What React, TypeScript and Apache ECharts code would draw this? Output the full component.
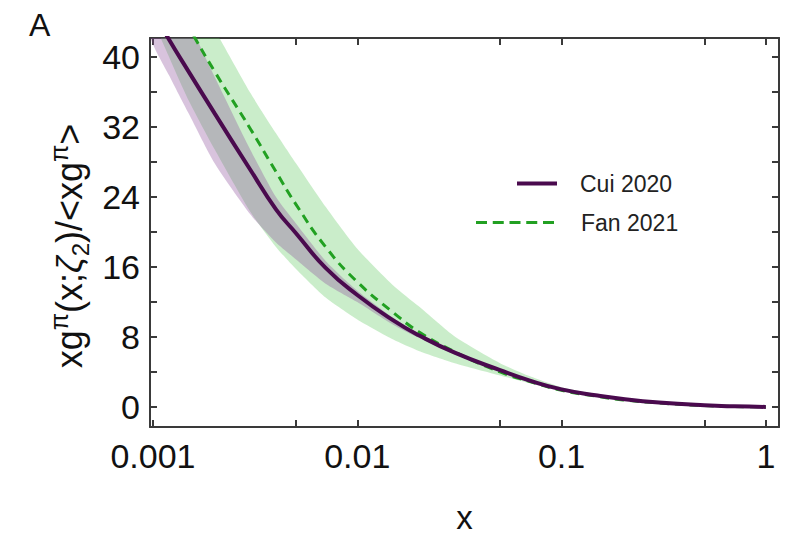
import React, { useEffect, useRef } from "react";
import * as echarts from "echarts";

// Sampling grid in x (log-spaced) shared by every curve and band
const xGrid = [
  0.00097, 0.0012, 0.0015, 0.002, 0.003, 0.004, 0.005, 0.007, 0.01, 0.015,
  0.02, 0.03, 0.05, 0.07, 0.1, 0.15, 0.2, 0.3, 0.5, 0.7, 1.0,
];

// Cui 2020: central curve and uncertainty band
const cuiCentral = [
  45.8, 42.0, 38.3, 33.6, 27.1, 22.6, 19.9, 15.9, 12.8, 9.9,
  8.2, 6.2, 4.2, 3.0, 2.0, 1.3, 0.9, 0.5, 0.18, 0.06, 0,
];
const cuiLower = [
  42.4, 37.9, 33.5, 27.9, 22.0, 18.8, 16.9, 14.1, 12.0, 9.4,
  7.9, 6.0, 4.1, 2.95, 1.95, 1.27, 0.88, 0.48, 0.17, 0.05, 0,
];
const cuiUpper = [
  53.5, 48.9, 44.0, 37.8, 29.4, 24.0, 21.0, 16.7, 13.3, 10.2,
  8.4, 6.3, 4.25, 3.05, 2.03, 1.32, 0.92, 0.51, 0.19, 0.07, 0,
];

// Fan 2021: central curve and uncertainty band
const fanCentral = [
  51.5, 47.4, 43.4, 38.4, 31.8, 26.9, 23.2, 18.3, 14.3, 10.8,
  8.6, 6.3, 4.0, 2.9, 1.9, 1.2, 0.8, 0.45, 0.15, 0.05, 0,
];
const fanLower = [
  45.5, 40.0, 35.0, 29.5, 22.3, 18.3, 15.8, 12.5, 10.0, 7.7,
  6.4, 5.0, 3.6, 2.7, 1.8, 1.15, 0.78, 0.42, 0.13, 0.04, 0,
];
const fanUpper = [
  55.7, 52.0, 48.2, 43.2, 35.9, 31.3, 27.9, 22.9, 18.1, 13.9,
  11.5, 8.05, 5.0, 3.5, 2.25, 1.42, 0.96, 0.53, 0.18, 0.06, 0,
];

// Axis ticks and labels
const xTicks = [0.001, 0.005, 0.01, 0.05, 0.1, 0.5, 1];
const xLabels = [0.001, 0.01, 0.1, 1];
const yTicks = [0, 4, 8, 12, 16, 20, 24, 28, 32, 36, 40];
const yLabels = [0, 8, 16, 24, 32, 40];

const X_MIN = 0.000967;
const X_MAX = 1.16;
const Y_MIN = -2.3;
const Y_MAX = 42.2;

const FONT = "Liberation Sans, Arial, sans-serif";
const FRAME = "#3a3a3a";
const CUI_COLOR = "#4a0a4e";
const FAN_COLOR = "#22a022";

const pairs = (ys: number[]) => xGrid.map((x, i) => [x, ys[i]]);

// Filled uncertainty band between a lower and an upper curve
function bandSeries(name: string, lo: number[], hi: number[], color: string, z: number) {
  return {
    type: "custom",
    name,
    xAxisIndex: 0,
    yAxisIndex: 0,
    silent: true,
    clip: true,
    z,
    data: xGrid.map((x, i) => [x, lo[i], hi[i]]),
    encode: { x: 0, y: [1, 2] },
    renderItem: (params: any, api: any) => {
      if (params.dataIndex !== 0) return null;
      const top = xGrid.map((x, i) => api.coord([x, hi[i]]));
      const bottom = xGrid.map((x, i) => api.coord([x, lo[i]])).reverse();
      const cs = params.coordSys;
      return {
        type: "polygon",
        shape: { points: top.concat(bottom), smooth: 0.2 },
        style: { fill: color, stroke: "none" },
        clipPath: { type: "rect", shape: { x: cs.x, y: cs.y, width: cs.width, height: cs.height } },
      };
    },
  };
}

export default function App() {
  const ref = useRef<HTMLDivElement>(null);

  useEffect(() => {
    if (!ref.current) return;
    const chart = echarts.init(ref.current, null, { renderer: "svg" });

    const tickStyle = { color: FRAME, width: 2 };
    const lineAxis = { show: true, onZero: false, lineStyle: { color: FRAME, width: 2 } };

    const option: any = {
      animation: false,
      backgroundColor: "#ffffff",
      title: {
        text: "A",
        left: 24,
        top: 4,
        textStyle: { fontFamily: FONT, fontSize: 32, fontWeight: "normal", color: "#111" },
      },
      grid: {
        left: 150,
        right: 16,
        top: 38,
        bottom: 107,
        containLabel: false,
        outerBoundsMode: "none",
      },
      xAxis: [
        {
          type: "log",
          logBase: 10,
          min: X_MIN,
          max: X_MAX,
          position: "bottom",
          axisLine: lineAxis,
          axisTick: { show: true, inside: true, length: 7, lineStyle: tickStyle, customValues: xTicks },
          minorTick: { show: false },
          splitLine: { show: false },
          axisLabel: {
            customValues: xLabels,
            formatter: (v: number) => String(v),
            fontFamily: FONT,
            fontSize: 34,
            color: "#111",
            margin: 12,
          },
          name: "x",
          nameLocation: "middle",
          nameGap: 73,
          nameTextStyle: { fontFamily: FONT, fontSize: 33, color: "#111", lineHeight: 34 },
        },
        {
          type: "log",
          logBase: 10,
          min: X_MIN,
          max: X_MAX,
          position: "top",
          axisLine: lineAxis,
          axisTick: { show: true, inside: true, length: 7, lineStyle: tickStyle, customValues: xTicks },
          minorTick: { show: false },
          splitLine: { show: false },
          axisLabel: { show: false },
        },
      ],
      yAxis: [
        {
          type: "value",
          min: Y_MIN,
          max: Y_MAX,
          position: "left",
          axisLine: lineAxis,
          axisTick: { show: true, inside: true, length: 7, lineStyle: tickStyle, customValues: yTicks },
          splitLine: { show: false },
          axisLabel: {
            customValues: yLabels,
            fontFamily: FONT,
            fontSize: 34,
            color: "#111",
            margin: 10,
          },
        },
        {
          type: "value",
          min: Y_MIN,
          max: Y_MAX,
          position: "right",
          axisLine: lineAxis,
          axisTick: { show: true, inside: true, length: 7, lineStyle: tickStyle, customValues: yTicks },
          splitLine: { show: false },
          axisLabel: { show: false },
        },
      ],
      graphic: [
        {
          type: "text",
          x: 69,
          y: 246,
          rotation: Math.PI / 2,
          style: {
            text: "xg{sup|π}(x;{it|ζ}{sub|2})/<xg{sup|π}>",
            fontFamily: FONT,
            fontSize: 36,
            fill: "#111",
            align: "center",
            verticalAlign: "middle",
            lineHeight: 46,
            rich: {
              sup: { fontFamily: FONT, fontSize: 25, fill: "#111", verticalAlign: "top", lineHeight: 30 },
              sub: { fontFamily: FONT, fontSize: 24, fill: "#111", verticalAlign: "bottom", lineHeight: 34 },
              it: { fontFamily: FONT, fontSize: 36, fontStyle: "italic", fill: "#111", lineHeight: 46 },
            },
          },
        },
      ],
      legend: [
        {
          data: ["Cui 2020"],
          left: 512,
          top: 167,
          icon: "rect",
          itemWidth: 40,
          itemHeight: 4,
          selectedMode: false,
          textStyle: { fontFamily: FONT, fontSize: 23, color: "#222", padding: [0, 0, 0, 18] },
        },
        {
          data: ["Fan 2021"],
          left: 471,
          top: 206,
          icon: "path://M0,0H11V3H0Z M16.75,0H27.75V3H16.75Z M33.5,0H44.5V3H33.5Z M50.25,0H61.25V3H50.25Z M67,0H78V3H67Z",
          itemWidth: 78,
          itemHeight: 3,
          selectedMode: false,
          textStyle: { fontFamily: FONT, fontSize: 23, color: "#222", padding: [0, 0, 0, 22] },
        },
      ],
      series: [
        bandSeries("Fan 2021 band", fanLower, fanUpper, "rgba(90, 200, 90, 0.32)", 1),
        bandSeries("Cui 2020 band", cuiLower, cuiUpper, "rgba(140, 80, 155, 0.34)", 2),
        {
          name: "Fan 2021",
          type: "line",
          data: pairs(fanCentral),
          symbol: "none",
          smooth: 0.5,
          z: 4,
          lineStyle: { color: FAN_COLOR, width: 3, type: [9, 6] },
          itemStyle: { color: FAN_COLOR },
        },
        {
          name: "Cui 2020",
          type: "line",
          data: pairs(cuiCentral),
          symbol: "none",
          smooth: 0.5,
          z: 5,
          lineStyle: { color: CUI_COLOR, width: 4 },
          itemStyle: { color: CUI_COLOR },
        },
      ],
    };

    chart.setOption(option);
    return () => chart.dispose();
  }, []);

  return <div ref={ref} style={{ width: 795, height: 534, position: "absolute", left: 0, top: 0 }} />;
}
